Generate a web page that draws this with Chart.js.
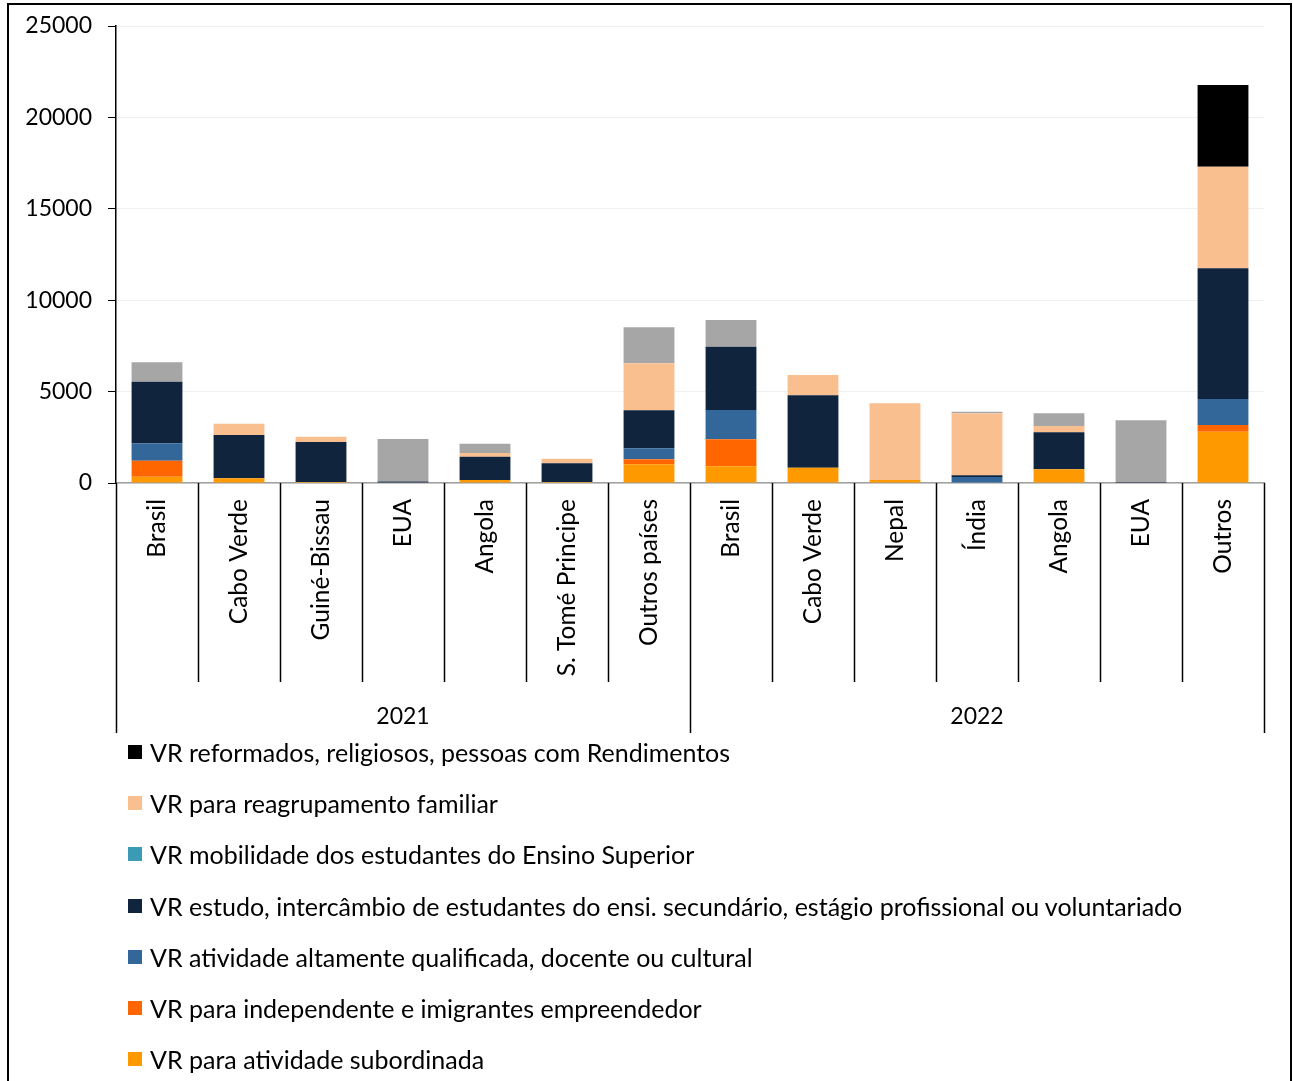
<!DOCTYPE html>
<html lang="pt">
<head>
    <meta charset="UTF-8">
    <title>Vistos de residência por tipo e país</title>
    <script src="https://cdn.jsdelivr.net/npm/chart.js@4.4.1/dist/chart.umd.min.js"></script>
    <style>
      body { margin: 0; background: #fff; font-family: Lato, sans-serif; }
      #frame { position: absolute; left: 7px; top: 3px; width: 1281px; height: 1100px; border: 2px solid #000; }
      #box { position: absolute; left: 0; top: 0; width: 1281px; height: 740px; }
      #legend { position: absolute; left: 119px; top: 721px; }
      .item { height: 51.3px; display: flex; align-items: center; font-size: 25px; color: #000; white-space: nowrap; }
      .item span { display: inline-block; width: 14px; height: 14px; margin-right: 8px; }
    </style>
</head>
<body>
<div id="frame">
  <div id="box"><canvas id="myChart"></canvas></div>
  <div id="legend"></div>
</div>

<script>
// categories
const countries = ['Brasil', 'Cabo Verde', 'Guiné-Bissau', 'EUA', 'Angola', 'S. Tomé Principe', 'Outros países',
                   'Brasil', 'Cabo Verde', 'Nepal', 'Índia', 'Angola', 'EUA', 'Outros'];
const years = ['2021', '2022'];
const yearSizes = [7, 7];

// series (stack order bottom -> top)
const subordinada   = [345, 257, 50, 0, 164, 50, 1023, 913, 837, 160, 30, 748, 0, 2808];
const independente  = [875, 0, 0, 0, 0, 0, 273, 1477, 0, 0, 0, 0, 0, 365];
const altamente     = [952, 0, 0, 0, 0, 0, 602, 1603, 0, 0, 300, 0, 0, 1422];
const estudo        = [3369, 2369, 2190, 80, 1275, 1030, 2079, 3463, 3960, 0, 100, 2023, 50, 7149];
const mobilidade    = [0, 0, 0, 0, 0, 0, 0, 0, 0, 0, 0, 0, 0, 0];
const reagrupamento = [0, 618, 290, 0, 200, 250, 2571, 0, 1111, 4200, 3380, 347, 0, 5559];
const reformados    = [0, 0, 0, 0, 0, 0, 0, 0, 0, 0, 0, 0, 0, 4468];
const outrosVR      = [1061, 0, 0, 2330, 510, 0, 1969, 1460, 0, 0, 90, 694, 3380, 0];

const yTicks = [0, 5000, 10000, 15000, 20000, 25000];

const font = { family: 'Lato', size: 23 };

// separators under the x axis + year labels
const groupAxis = {
  id: 'groupAxis',
  afterDraw(chart) {
    const x = chart.scales.x;
    const ctx = chart.ctx;
    const base = chart.chartArea.bottom;
    const step = x.getPixelForValue(1) - x.getPixelForValue(0);
    const edges = [0];
    yearSizes.forEach(n => edges.push(edges[edges.length - 1] + n));
    ctx.save();
    ctx.strokeStyle = '#000';
    ctx.lineWidth = 1.5;
    for (let i = 0; i <= countries.length; i++) {
      const px = Math.round(x.getPixelForValue(i) - step / 2) + 0.5;
      const len = edges.includes(i) ? 250 : 199;
      ctx.beginPath();
      ctx.moveTo(px, base);
      ctx.lineTo(px, base + len);
      ctx.stroke();
    }
    ctx.fillStyle = '#000';
    ctx.font = '23px Lato';
    ctx.textAlign = 'center';
    ctx.textBaseline = 'middle';
    years.forEach((y, k) => {
      const a = x.getPixelForValue(edges[k]) - step / 2;
      const b = x.getPixelForValue(edges[k + 1]) - step / 2;
      ctx.fillText(y, (a + b) / 2, base + 234);
    });
    ctx.restore();
  }
};

const datasets = [
  { label: 'VR para atividade subordinada', data: subordinada, backgroundColor: '#FF9900' },
  { label: 'VR para independente e imigrantes empreendedor', data: independente, backgroundColor: '#FF6600' },
  { label: 'VR atividade altamente qualificada, docente ou cultural', data: altamente, backgroundColor: '#336699' },
  { label: 'VR estudo, intercâmbio de estudantes do ensi. secundário, estágio profissional ou voluntariado', data: estudo, backgroundColor: '#10243E' },
  { label: 'VR mobilidade dos estudantes do Ensino Superior', data: mobilidade, backgroundColor: '#3B9AB4' },
  { label: 'VR para reagrupamento familiar', data: reagrupamento, backgroundColor: '#FABF8F' },
  { label: 'VR reformados, religiosos, pessoas com Rendimentos', data: reformados, backgroundColor: '#000000' },
  { label: 'Outros VR', data: outrosVR, backgroundColor: '#A6A6A6', hideLegend: true }
];
datasets.forEach(d => { d.categoryPercentage = 1; d.barPercentage = 0.62; });

const chart = new Chart(document.getElementById('myChart'), {
  type: 'bar',
  data: { labels: countries, datasets: datasets },
  options: {
    responsive: true,
    maintainAspectRatio: false,
    animation: false,
    layout: { padding: { top: 21, right: 26, left: 0, bottom: 0 } },
    plugins: { legend: { display: false }, tooltip: { enabled: false } },
    scales: {
      x: {
        stacked: true,
        grid: { display: false },
        border: { color: '#A0A0A0', width: 1.5 },
        ticks: { color: '#000', font: { family: 'Lato', size: 24.5 }, minRotation: 90, maxRotation: 90, padding: 8, autoSkip: false },
        afterFit(scale) {
          scale.height = 262;
          scale.paddingLeft = 0; scale.paddingRight = 0; scale.paddingTop = 0; scale.paddingBottom = 0;
        }
      },
      y: {
        stacked: true,
        min: 0, max: 25000,
        afterBuildTicks(scale) { scale.ticks = yTicks.map(v => ({ value: v })); },
        grid: { color: '#EFEFEF', tickColor: '#000', tickLength: 8 },
        border: { color: '#000', width: 1.5 },
        ticks: { color: '#000', font: font, padding: 16, callback: v => String(v) },
        afterFit(scale) {
          scale.width = 107;
          scale.paddingLeft = 0; scale.paddingRight = 0; scale.paddingTop = 0; scale.paddingBottom = 0;
        }
      }
    }
  },
  plugins: [groupAxis]
});

// legend (top of the stack first)
const legend = document.getElementById('legend');
datasets.slice().reverse().forEach(d => {
  if (d.hideLegend) return;
  const row = document.createElement('div');
  row.className = 'item';
  row.innerHTML = '<span style="background:' + d.backgroundColor + '"></span>' + d.label;
  legend.appendChild(row);
});
</script>
</body>
</html>
